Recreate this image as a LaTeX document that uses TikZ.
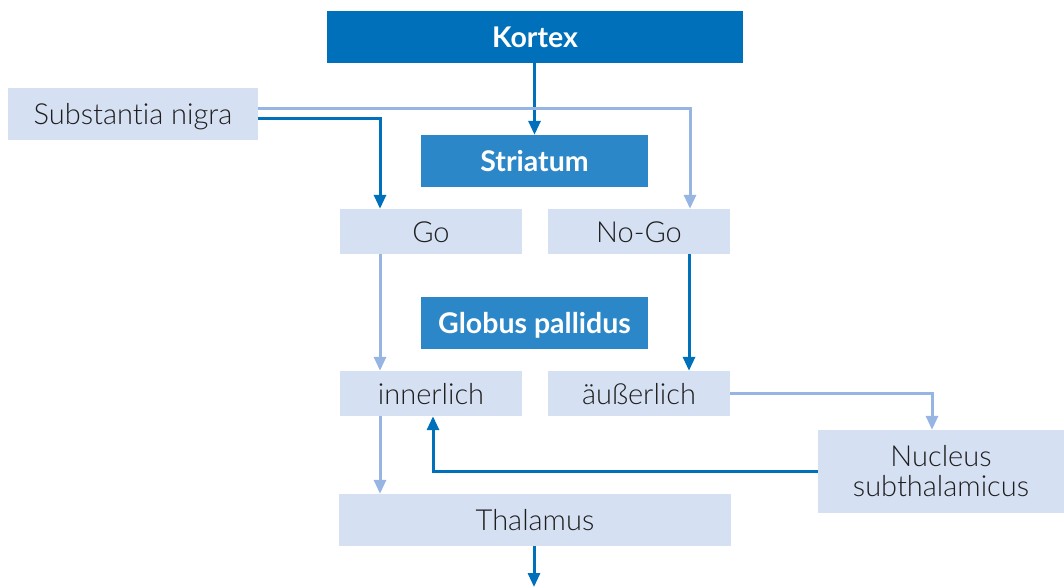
\documentclass[tikz,border=0pt]{standalone}
\usepackage{fontspec}
\setmainfont{Lato}[UprightFont={* Light},BoldFont={* Bold},Ligatures={NoCommon}]
\usetikzlibrary{arrows.meta,calc}
\definecolor{cdark}{HTML}{0070BA}
\definecolor{cmed}{HTML}{2B87C7}
\definecolor{cfill}{HTML}{D5E0F2}
\definecolor{cline}{HTML}{97B5E3}
\definecolor{ctext}{HTML}{1E1E1E}
\begin{document}
\begin{tikzpicture}[x=1pt,y=-1pt,
  one/.style={text height=23pt,text depth=2pt},
  head/.style={one,fill=cdark,text=white,font=\fontsize{28.5}{30}\selectfont\bfseries,inner sep=0pt},
  sub/.style={one,fill=cmed,text=white,font=\fontsize{28.5}{30}\selectfont\bfseries,inner sep=0pt},
  lbox/.style={fill=cfill,text=ctext,font=\fontsize{29}{30}\selectfont,inner sep=0pt,align=center},
  darr/.style={draw=cdark,line width=3pt,-{Triangle[width=12pt,length=14pt]}},
  larr/.style={draw=cline,line width=3pt,-{Triangle[width=12pt,length=14pt]}}]
\useasboundingbox (0,0) rectangle (1064,587);
\node[head,minimum width=416pt,minimum height=52pt] (kortex) at (535,37) {Kortex};
\node[lbox,one,minimum width=250pt,minimum height=52pt] (sn) at (133,114) {Substantia nigra};
\node[sub,minimum width=227pt,minimum height=52pt] (str) at (534.5,161) {Striatum};
\node[lbox,one,minimum width=182pt,minimum height=45pt] (go) at (431,231.5) {Go};
\node[lbox,one,minimum width=182pt,minimum height=45pt] (nogo) at (639,231.5) {No-Go};
\node[sub,minimum width=227pt,minimum height=52pt] (gp) at (534.5,323) {Globus pallidus};
\node[lbox,one,minimum width=182pt,minimum height=45pt] (inner) at (431,393.5) {innerlich};
\node[lbox,one,minimum width=182pt,minimum height=45pt] (auss) at (639,393.5) {äußerlich};
\node[lbox,minimum width=246pt,minimum height=83pt] (nuc) at (941,471.5) {Nucleus\\subthalamicus};
\node[lbox,one,minimum width=392pt,minimum height=52pt] (thal) at (535,520) {Thalamus};
\coordinate (out) at (534,587);

\draw[darr] (kortex.south -| str.north) -- (str.north);
\draw[larr] ([yshift=6pt]sn.east) -| ([xshift=51pt]nogo.north);
\draw[darr] ([yshift=-4pt]sn.east) -| ([xshift=-51pt]go.north);
\draw[larr] ([xshift=-51pt]go.south) -- ([xshift=-51pt]inner.north);
\draw[darr] ([xshift=50pt]nogo.south) -- ([xshift=50pt]auss.north);
\draw[larr] (auss.east) -| ([xshift=-9pt]nuc.north);
\draw[darr] (nuc.west) -| ([xshift=2pt]inner.south);
\draw[larr] ([xshift=-51pt]inner.south) -- ([xshift=-51pt]inner.south |- thal.north);
\draw[darr] (out |- thal.south) -- (out);
\end{tikzpicture}
\end{document}
